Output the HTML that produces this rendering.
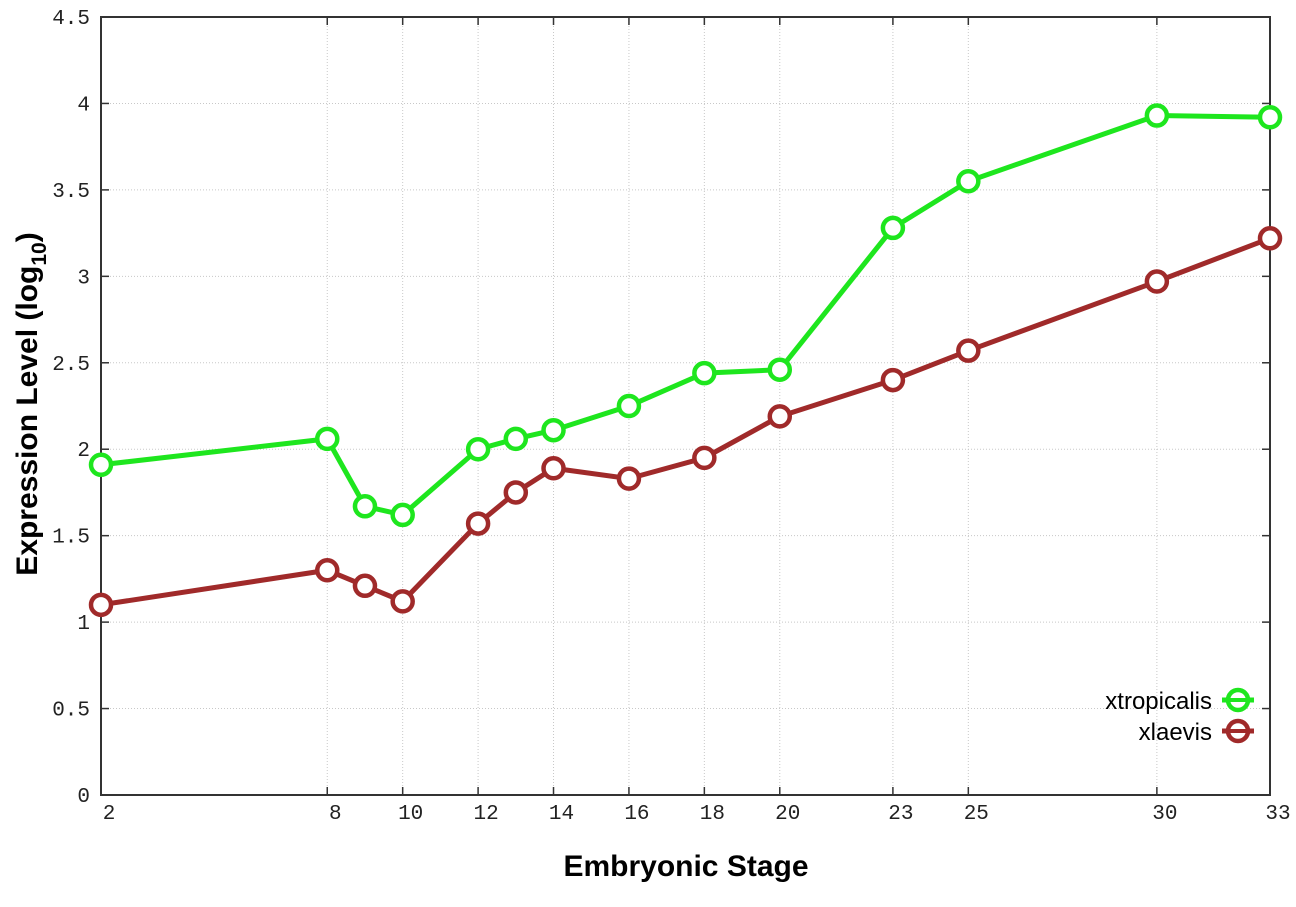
<!DOCTYPE html>
<html><head><meta charset="utf-8"><style>body{margin:0;background:#fff}svg{display:block}</style></head>
<body>
<svg id="s" width="1296" height="907" xmlns="http://www.w3.org/2000/svg"></svg>
<script>
const s=document.getElementById('s');
const X=v=>101+(v-2)*(1270-101)/31, Y=v=>795-v*(795-17)/4.5;
let h='';
const xs=[2,8,9,10,12,13,14,16,18,20,23,25,30,33];
const xl=[2,8,10,12,14,16,18,20,23,25,30,33];
for(let i=1;i<=9;i++){const y=Y(i*0.5);
 if(i<9)h+=`<line x1="101" x2="1270" y1="${y}" y2="${y}" stroke="#c8c8c8" stroke-dasharray="1,2"/>`;}
xl.forEach(v=>{const x=X(v);if(v!=2&&v!=33)h+=`<line x1="${x}" x2="${x}" y1="17" y2="795" stroke="#c8c8c8" stroke-dasharray="1,2"/>`;
 h+=`<line x1="${x}" x2="${x}" y1="795" y2="787" stroke="#333" stroke-width="1.5"/><line x1="${x}" x2="${x}" y1="17" y2="25" stroke="#333" stroke-width="1.5"/>`;
 h+=`<text x="${x+8}" y="819" font-family="Liberation Mono,monospace" font-size="21" text-anchor="middle" fill="#222">${v}</text>`;});
for(let i=0;i<=9;i++){const y=Y(i*0.5);
 h+=`<line x1="101" x2="109" y1="${y}" y2="${y}" stroke="#333" stroke-width="1.5"/><line x1="1262" x2="1270" y1="${y}" y2="${y}" stroke="#333" stroke-width="1.5"/>`;
 h+=`<text x="90" y="${y+7}" font-family="Liberation Mono,monospace" font-size="21" text-anchor="end" fill="#222">${i%2?(i/2).toFixed(1):i/2}</text>`;}
h+=`<rect x="101" y="17" width="1169" height="778" fill="none" stroke="#333" stroke-width="2"/>`;
const g=[1.91,2.06,1.67,1.62,2.0,2.06,2.11,2.25,2.44,2.46,3.28,3.55,3.93,3.92];
const r=[1.10,1.30,1.21,1.12,1.57,1.75,1.89,1.83,1.95,2.19,2.40,2.57,2.97,3.22];
function ser(d,c){h+=`<polyline fill="none" stroke="${c}" stroke-width="5" points="${xs.map((v,i)=>X(v)+','+Y(d[i])).join(' ')}"/>`;
 xs.forEach((v,i)=>h+=`<circle cx="${X(v)}" cy="${Y(d[i])}" r="10" fill="#fff" stroke="${c}" stroke-width="4.5"/>`);}
ser(r,'#a02a2a');ser(g,'#1ee61e');
h+=`<text x="1212" y="709" font-family="Liberation Sans,sans-serif" font-size="24" text-anchor="end">xtropicalis</text>`;
h+=`<text x="1212" y="740" font-family="Liberation Sans,sans-serif" font-size="24" text-anchor="end">xlaevis</text>`;
h+=`<line x1="1222" x2="1254" y1="700" y2="700" stroke="#1ee61e" stroke-width="5"/><circle cx="1238" cy="700" r="10" fill="#fff" stroke="#1ee61e" stroke-width="4.5"/><line x1="1222" x2="1254" y1="700" y2="700" stroke="#1ee61e" stroke-width="4"/>`;
h+=`<line x1="1222" x2="1254" y1="731" y2="731" stroke="#a02a2a" stroke-width="5"/><circle cx="1238" cy="731" r="10" fill="#fff" stroke="#a02a2a" stroke-width="4.5"/><line x1="1222" x2="1254" y1="731" y2="731" stroke="#a02a2a" stroke-width="4"/>`;
h+=`<text x="686" y="876" font-family="Liberation Sans,sans-serif" font-size="30" font-weight="bold" text-anchor="middle">Embryonic Stage</text>`;
h+=`<text transform="translate(37,404) rotate(-90)" font-family="Liberation Sans,sans-serif" font-size="30" font-weight="bold" text-anchor="middle">Expression Level (log<tspan font-size="21" dy="9">10</tspan><tspan dy="-9">)</tspan></text>`;
s.innerHTML=h;
</script>
</body></html>
